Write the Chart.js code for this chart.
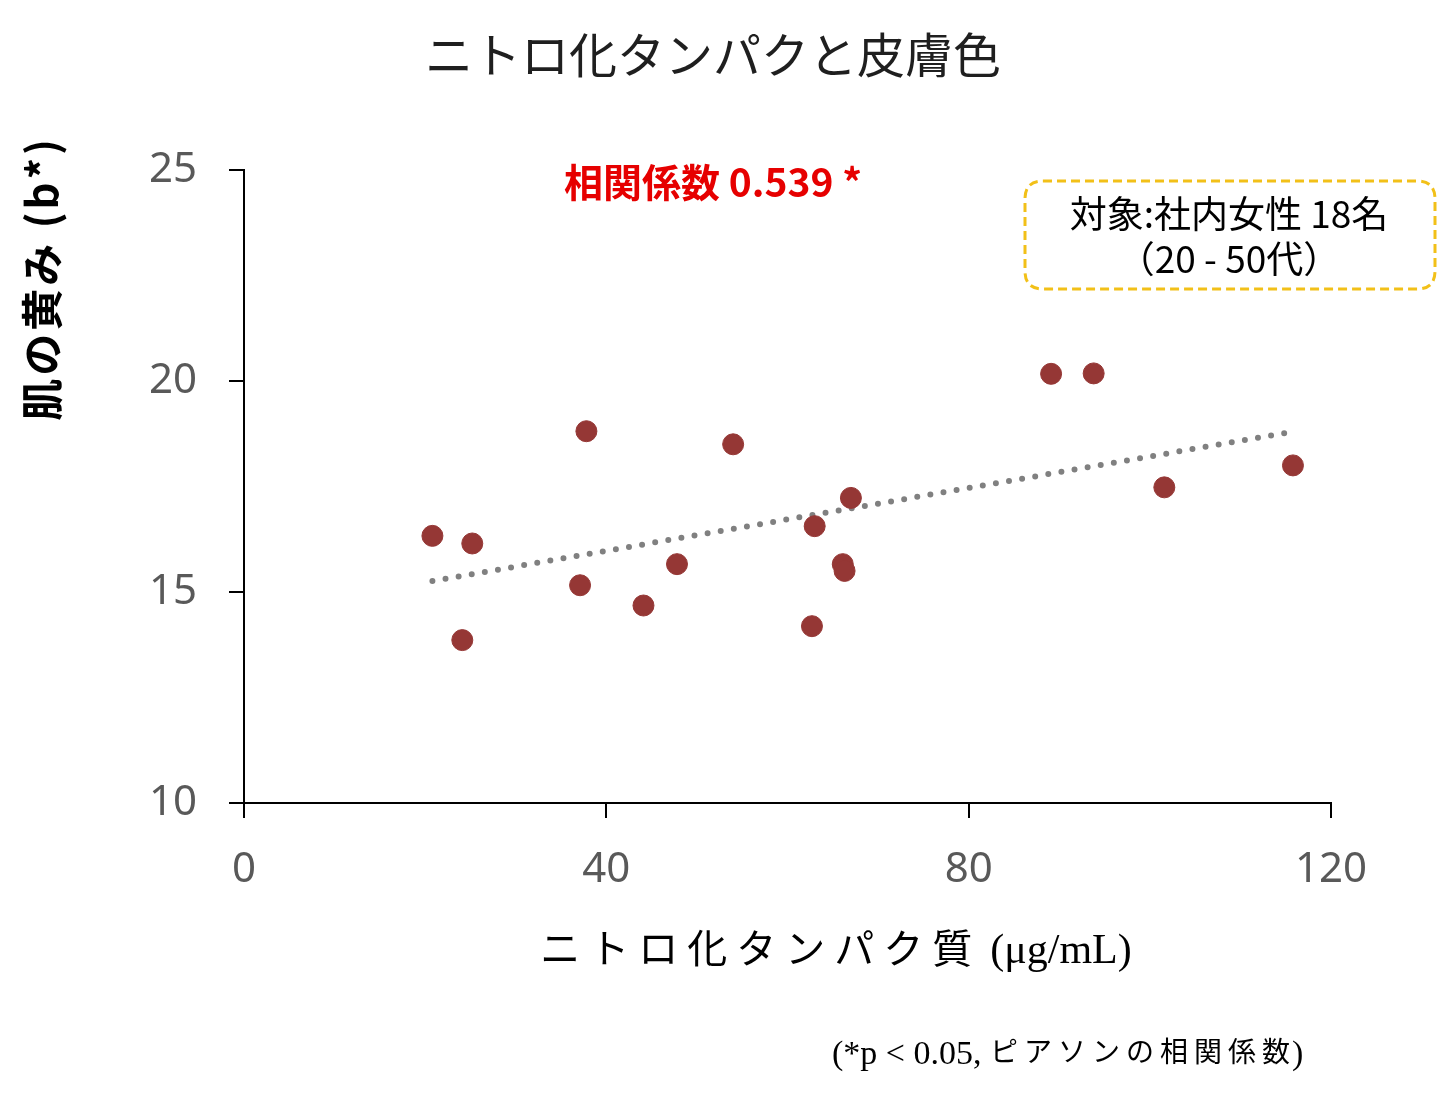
<!DOCTYPE html>
<html>
<head>
<meta charset="utf-8">
<script src="https://cdn.jsdelivr.net/npm/chart.js@4.4.1/dist/chart.umd.min.js"></script>
<style>
  html, body { margin: 0; padding: 0; background: #fff; }
  #wrap { width: 1437px; height: 1094px; position: relative; }
</style>
</head>
<body>
<div id="wrap"><canvas id="chart"></canvas></div>
<script>
// measured values (nitrated protein ug/mL vs skin b*)
var proteinValues = [20.8, 25.2, 24.1, 37.8, 37.1, 44.1, 47.8, 54.0, 63.0, 62.7, 66.1, 66.3, 67.0, 89.1, 93.8, 101.6, 115.8];
var yellowValues  = [16.33, 16.15, 13.86, 18.81, 15.16, 14.68, 15.66, 18.50, 16.56, 14.19, 15.66, 15.50, 17.23, 20.17, 20.18, 17.48, 18.00];

// trend line end points
var trendX = [20.8, 115.0];
var trendY = [15.26, 18.77];

var xTicks = [0, 40, 80, 120];
var yTicks = [10, 15, 20, 25];

var titleText = 'ニトロ化タンパクと皮膚色';
var corrText = '相関係数 0.539 *';
var boxLines = ['対象:社内女性 18名', '（20 - 50代）'];
var yLabel = '肌の黄み (b*)';
var xLabelJa = 'ニトロ化タンパク質';
var xLabelUnit = '(μg/mL)';
var footLatin = '(*p < 0.05, ';
var footJa = 'ピアソンの相関係数';

var sansJa = "'Noto Sans CJK JP', 'Noto Sans', sans-serif";
var serifJa = "'Liberation Serif', 'Noto Sans CJK JP', serif";

function toPoints(xs, ys) {
	var out = [];
	for (var i = 0; i < xs.length; i++) out.push({ x: xs[i], y: ys[i] });
	return out;
}

function roundRect(ctx, x, y, w, h, r) {
	ctx.beginPath();
	ctx.moveTo(x + r, y);
	ctx.lineTo(x + w - r, y);
	ctx.quadraticCurveTo(x + w, y, x + w, y + r);
	ctx.lineTo(x + w, y + h - r);
	ctx.quadraticCurveTo(x + w, y + h, x + w - r, y + h);
	ctx.lineTo(x + r, y + h);
	ctx.quadraticCurveTo(x, y + h, x, y + h - r);
	ctx.lineTo(x, y + r);
	ctx.quadraticCurveTo(x, y, x + r, y);
	ctx.closePath();
}

// width of a string drawn char by char with a gap
function spacedWidth(ctx, str, gap) {
	var w = 0;
	for (var i = 0; i < str.length; i++) w += ctx.measureText(str[i]).width + gap;
	return w - gap;
}

function drawSpaced(ctx, str, x, y, gap) {
	for (var i = 0; i < str.length; i++) {
		ctx.fillText(str[i], x, y);
		x += ctx.measureText(str[i]).width + gap;
	}
	return x - gap;
}

var textPlugin = {
	id: 'texts',
	afterDraw: function(chart) {
		var ctx = chart.ctx;
		ctx.save();

		// title
		ctx.fillStyle = '#1f1f1f';
		ctx.textAlign = 'center';
		ctx.textBaseline = 'middle';
		ctx.font = '400 48px ' + sansJa;
		ctx.fillText(titleText, 713, 55);

		// correlation
		ctx.fillStyle = '#e60000';
		ctx.font = 'bold 39px ' + sansJa;
		ctx.fillText(corrText, 713, 182);

		// dashed box
		ctx.strokeStyle = '#f2c018';
		ctx.lineWidth = 3;
		ctx.setLineDash([9, 5]);
		roundRect(ctx, 1025, 181, 410, 108, 18);
		ctx.stroke();
		ctx.setLineDash([]);
		ctx.fillStyle = '#000';
		ctx.font = '37px ' + sansJa;
		ctx.fillText(boxLines[0], 1229, 214);
		ctx.fillText(boxLines[1], 1229, 259);

		// y label
		ctx.save();
		ctx.translate(42, 280);
		ctx.rotate(-Math.PI / 2);
		ctx.font = 'bold 42px ' + sansJa;
		ctx.fillStyle = '#000';
		ctx.textAlign = 'left';
		var yw = spacedWidth(ctx, yLabel, 3);
		drawSpaced(ctx, yLabel, -yw / 2, 0, 3);
		ctx.restore();

		// x label, spaced japanese + serif unit
		ctx.fillStyle = '#000';
		ctx.textAlign = 'left';
		ctx.font = '40px ' + serifJa;
		var jaW = spacedWidth(ctx, xLabelJa, 9);
		ctx.font = '42px ' + serifJa;
		var unitW = ctx.measureText(xLabelUnit).width;
		var x0 = 836 - (jaW + 18 + unitW) / 2;
		ctx.font = '40px ' + serifJa;
		x0 = drawSpaced(ctx, xLabelJa, x0, 952, 9);
		ctx.font = '42px ' + serifJa;
		ctx.fillText(xLabelUnit, x0 + 18, 952);

		// footnote
		ctx.font = '34px ' + serifJa;
		var fx = 832;
		ctx.fillText(footLatin, fx, 1055);
		fx += ctx.measureText(footLatin).width;
		ctx.font = '28px ' + serifJa;
		fx = drawSpaced(ctx, footJa, fx, 1055, 6);
		ctx.font = '34px ' + serifJa;
		ctx.fillText(')', fx + 2, 1055);

		ctx.restore();
	}
};

var ctx = document.getElementById('chart').getContext('2d');
new Chart(ctx, {
	type: 'scatter',
	data: {
		datasets: [
			{
				type: 'scatter',
				data: toPoints(proteinValues, yellowValues),
				backgroundColor: '#953735',
				borderColor: '#953735',
				pointRadius: 10.5,
				pointHoverRadius: 10.5,
				order: 1
			},
			{
				type: 'line',
				data: toPoints(trendX, trendY),
				borderColor: '#808080',
				borderWidth: 6,
				borderDash: [0, 13.3],
				borderCapStyle: 'round',
				pointRadius: 0,
				fill: false,
				order: 2
			}
		]
	},
	options: {
		responsive: true,
		maintainAspectRatio: false,
		animation: false,
		events: [],
		layout: { padding: { left: 0, right: 106, top: 170, bottom: 0 } },
		plugins: {
			legend: { display: false },
			tooltip: { enabled: false },
			title: { display: false }
		},
		scales: {
			x: {
				type: 'linear',
				min: 0,
				max: 120,
				afterBuildTicks: function(axis) { axis.ticks = xTicks.map(function(v) { return { value: v }; }); },
				afterFit: function(axis) { axis.height = 1094 - 803; },
				ticks: {
					color: '#595959',
					font: { family: "'Noto Sans', sans-serif", size: 42 },
					padding: 27,
					maxRotation: 0
				},
				grid: { drawOnChartArea: false, drawTicks: true, tickLength: 15, color: '#000', lineWidth: 2 },
				border: { color: '#000', width: 2 }
			},
			y: {
				type: 'linear',
				min: 10,
				max: 25,
				afterBuildTicks: function(axis) { axis.ticks = yTicks.map(function(v) { return { value: v }; }); },
				afterFit: function(axis) { axis.width = 244; },
				ticks: {
					color: '#595959',
					font: { family: "'Noto Sans', sans-serif", size: 42 },
					padding: 32
				},
				grid: { drawOnChartArea: false, drawTicks: true, tickLength: 15, color: '#000', lineWidth: 2 },
				border: { color: '#000', width: 2 }
			}
		}
	},
	plugins: [textPlugin]
});
</script>
</body>
</html>
